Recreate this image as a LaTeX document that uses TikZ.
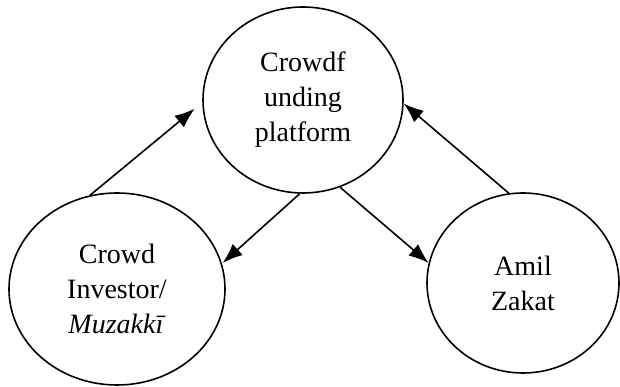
\documentclass[tikz,border=0pt]{standalone}
\usepackage{fontspec}
\setmainfont{Liberation Serif}
\usepackage{tikz}
\usetikzlibrary{shapes.geometric,arrows.meta}

\begin{document}
\begin{tikzpicture}[x=1pt,y=1pt,>={Latex[length=20pt,width=15pt]},
  party/.style={ellipse,draw,line width=1.6pt,inner sep=0pt,align=center,font=\fontsize{28}{35}\selectfont},
  flow/.style={->,line width=1.6pt}]
\useasboundingbox (0,0) rectangle (620,387);
\node[party,minimum width=200pt,minimum height=186pt] (platform) at (303,287) {Crowdf\\unding\\platform};
\node[party,minimum width=216pt,minimum height=192pt] (investor) at (117,98) {Crowd\\Investor/\\\textit{Muzakkī}};
\node[party,minimum width=192pt,minimum height=180pt] (amil) at (523,104) {Amil\\Zakat};
\draw[flow] (investor.106) -- ([xshift=-8pt]platform.185);
\draw[flow] (platform.268) -- ([xshift=1pt]investor.14);
\draw[flow] (platform.293) -- (amil.168);
\draw[flow] (amil.99) -- (platform.358);
\end{tikzpicture}
\end{document}
